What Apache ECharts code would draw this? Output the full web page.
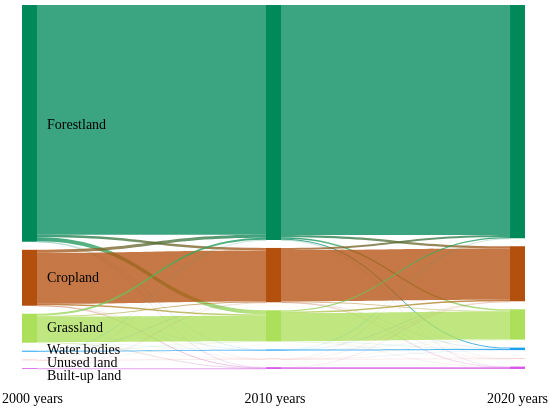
<!DOCTYPE html>
<html>
<head>
<meta charset="utf-8">
<script src="https://cdn.jsdelivr.net/npm/echarts@6/dist/echarts.min.js"></script>
<style>
    html, body { margin: 0; padding: 0; background: #fff; }
    #main { width: 550px; height: 408px; }
</style>
</head>
<body>
<div id="main"></div>
<script>
    // land use classes and periods
    var classes = ['Forestland', 'Cropland', 'Grassland', 'Water bodies', 'Unused land', 'Built-up land'];
    var years = ['2000 years', '2010 years', '2020 years'];

    // transfer matrix 2000 -> 2010 (row: from, col: to), x100 km2
    var flow0010 = [
        [230.0, 2.5, 4.0, 0.2, 0.05, 0.25],
        [3.0, 51.0, 1.4, 0.1, 0.05, 0.45],
        [2.0, 0.8, 25.6, 0.1, 0.1, 0.4],
        [0.1, 0.05, 0.05, 0.8, 0, 0],
        [0.05, 0, 0.15, 0, 0.3, 0],
        [0, 0.05, 0, 0, 0, 0.75]
    ];

    // transfer matrix 2010 -> 2020
    var flow1020 = [
        [230.15, 2.2, 1.5, 1.0, 0.1, 0.2],
        [2.0, 51.25, 0.6, 0.2, 0.05, 0.3],
        [1.2, 1.5, 28.1, 0.2, 0.05, 0.15],
        [0.05, 0.05, 0.05, 1.05, 0, 0],
        [0.05, 0.05, 0.1, 0.05, 0.25, 0],
        [0, 0.05, 0, 0, 0, 1.8]
    ];

    var colors = ['#01895a', '#b4500e', '#acdf5a', '#1aa0f0', '#f4a0a0', '#d65be6'];
    // small classes sit close together, spread their labels a bit
    var labelShift = [2, 1, 0, -1, 3, 8];

    var nodes = [];
    for (var y = 0; y < years.length; y++) {
        for (var c = 0; c < classes.length; c++) {
            nodes.push({
                name: years[y] + ' ' + classes[c],
                cls: classes[c],
                itemStyle: { color: colors[c] },
                label: { show: y === 0, offset: [0, labelShift[c]] }
            });
        }
    }

    var links = [];
    [flow0010, flow1020].forEach(function(m, k) {
        for (var i = 0; i < m.length; i++) {
            for (var j = 0; j < m[i].length; j++) {
                var v = m[i][j];
                if (v > 0) {
                    links.push({
                        source: years[k] + ' ' + classes[i],
                        target: years[k + 1] + ' ' + classes[j],
                        value: v,
                        // thin flows are drawn at least 1px wide, fade them instead
                        lineStyle: { opacity: 0.77 * Math.max(0.15, Math.min(1, v)) }
                    });
                }
            }
        }
    });

    var myChart = echarts.init(document.getElementById('main'));
    var option = {
        backgroundColor: '#fff',
        animation: false,
        series: [{
            type: 'sankey',
            left: 22,
            right: 25,
            top: 5,
            bottom: 39,
            nodeWidth: 15,
            nodeGap: 8,
            layoutIterations: 0,
            draggable: false,
            emphasis: { disabled: true },
            data: nodes,
            links: links,
            itemStyle: { borderWidth: 0 },
            lineStyle: {
                color: 'gradient',
                opacity: 0.77,
                curveness: 0.5
            },
            label: {
                position: 'right',
                distance: 10,
                color: '#000',
                fontFamily: 'Liberation Serif',
                fontSize: 14,
                formatter: function(p) {
                    return p.data.cls;
                }
            }
        }],
        graphic: [
            { type: 'text', left: 2, top: 392, style: { text: years[0], font: '14px "Liberation Serif"', fill: '#000' } },
            { type: 'text', left: 'center', top: 392, style: { text: years[1], font: '14px "Liberation Serif"', fill: '#000' } },
            { type: 'text', right: 2, top: 392, style: { text: years[2], font: '14px "Liberation Serif"', fill: '#000' } }
        ]
    };
    myChart.setOption(option);
</script>
</body>
</html>
